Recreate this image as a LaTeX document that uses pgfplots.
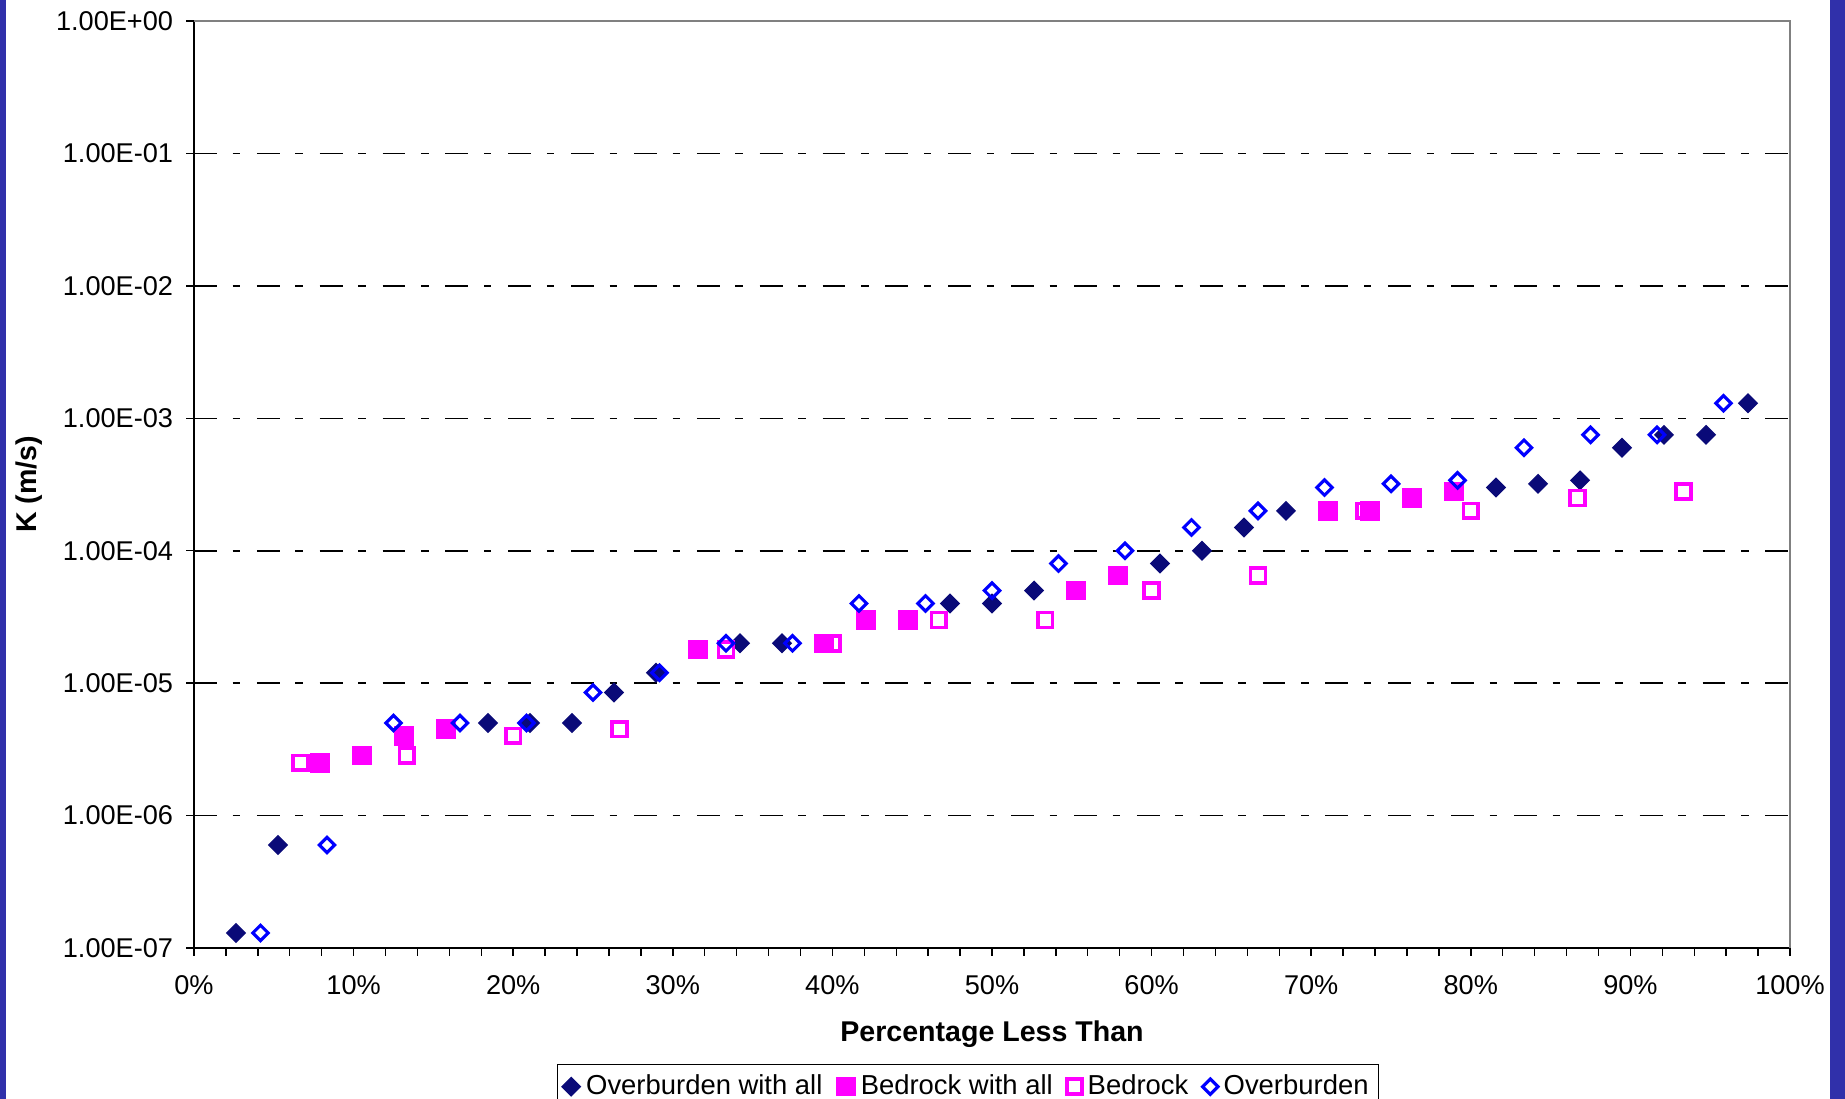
\documentclass[border=0pt]{standalone}
\usepackage{fontspec}
\setmainfont{Liberation Sans}
\usepackage{pgfplots}
\pgfplotsset{compat=1.18}
\definecolor{navyM}{RGB}{10,10,120}
\definecolor{blueM}{RGB}{0,0,255}
\definecolor{magM}{RGB}{255,0,255}
\definecolor{slide}{RGB}{48,48,170}
\definecolor{frameG}{RGB}{128,128,128}

\begin{document}
\begin{tikzpicture}
\useasboundingbox (0,0) rectangle (645.75pt,-384.65pt);
\fill[slide] (0,0) rectangle (2.1pt,-384.65pt);
\fill[slide] (640.5pt,0) rectangle (645.75pt,-384.65pt);
\begin{axis}[
  at={(67.9pt,-331.8pt)}, anchor=south west,
  width=558.6pt, height=324.45pt, scale only axis,
  xmin=0, xmax=100, ymin=1e-7, ymax=1, ymode=log, log basis y=10,
  axis x line*=bottom, axis y line*=left,
  x axis line style={line width=0.7pt, -},
  y axis line style={line width=0.5pt, -},
  tick align=outside, major tick length=2.8pt, minor tick length=2.8pt,
  xtick={0,10,...,100}, minor x tick num=4,
  yminorticks=false,
  xticklabels={0\%,10\%,20\%,30\%,40\%,50\%,60\%,70\%,80\%,90\%,100\%},
  ytick={1e-7,1e-6,1e-5,1e-4,1e-3,1e-2,1e-1,1},
  yticklabels={1.00E-07,1.00E-06,1.00E-05,1.00E-04,1.00E-03,1.00E-02,1.00E-01,1.00E+00},
  ymajorgrids,
  major grid style={black, line width=0.55pt, dash pattern=on 8pt off 5.5pt on 2.6pt off 5.9pt},
  tick style={black, line width=0.5pt},
  ticklabel style={font=\fontsize{9.5}{11}\selectfont},
  xticklabel style={yshift=-3.2pt},
  yticklabel style={xshift=-1.0pt},
  xlabel={Percentage Less Than}, ylabel={K (m/s)},
  xlabel style={font=\fontsize{10}{12}\selectfont\bfseries, at={(axis description cs:0.5,-0.0928)}, anchor=center},
  ylabel style={font=\fontsize{10}{12}\selectfont\bfseries, at={(axis description cs:-0.1034,0.5)}, anchor=center},
  legend columns=4,
  legend style={at={(0.485,-0.125)}, anchor=north, draw=black, line width=0.5pt,
    font=\fontsize{9.6}{11}\selectfont, inner sep=1.5pt,
    /tikz/every even column/.append style={column sep=3pt}},
  legend image code/.code={\draw[#1] plot coordinates {(0.1cm,0cm)};},
]
\addplot[only marks, mark=square*, mark size=2.3pt, mark options={rotate=45, fill=navyM, draw=navyM, line width=0.4pt}] coordinates {
(2.632,1.3e-7) (5.263,6e-7) (18.421,5e-6) (21.053,5e-6) (23.684,5e-6)
(26.316,8.5e-6) (28.947,1.2e-5) (34.211,2e-5) (36.842,2e-5) (47.368,4e-5)
(50.000,4e-5) (52.632,5e-5) (60.526,8e-5) (63.158,1e-4) (65.789,1.5e-4)
(68.421,2e-4) (81.579,3e-4) (84.211,3.2e-4) (86.842,3.4e-4) (89.474,6e-4)
(92.105,7.5e-4) (94.737,7.5e-4) (97.368,1.3e-3)
};
\addlegendentry{Overburden with all}
\addplot[only marks, mark=square*, mark size=3.2pt, mark options={fill=magM, draw=magM, line width=0.4pt}] coordinates {
(7.895,2.5e-6) (10.526,2.85e-6) (13.158,4e-6) (15.789,4.5e-6) (31.579,1.8e-5)
(39.474,2e-5) (42.105,3e-5) (44.737,3e-5) (55.263,5e-5) (57.895,6.5e-5)
(71.053,2e-4) (73.684,2e-4) (76.316,2.5e-4) (78.947,2.8e-4)
};
\addlegendentry{Bedrock with all}
\addplot[only marks, mark=square, mark size=2.6pt, mark options={draw=magM, line width=1.3pt}] coordinates {
(6.667,2.5e-6) (13.333,2.85e-6) (20.000,4e-6) (26.667,4.5e-6) (33.333,1.8e-5)
(40.000,2e-5) (46.667,3e-5) (53.333,3e-5) (60.000,5e-5) (66.667,6.5e-5)
(73.333,2e-4) (80.000,2e-4) (86.667,2.5e-4) (93.333,2.8e-4)
};
\addlegendentry{Bedrock}
\addplot[only marks, mark=square, mark size=1.9pt, mark options={rotate=45, draw=blueM, line width=1.1pt}] coordinates {
(4.167,1.3e-7) (8.333,6e-7) (12.5,5e-6) (16.667,5e-6) (20.833,5e-6)
(25.000,8.5e-6) (29.167,1.2e-5) (33.333,2e-5) (37.5,2e-5) (41.667,4e-5)
(45.833,4e-5) (50.000,5e-5) (54.167,8e-5) (58.333,1e-4) (62.5,1.5e-4)
(66.667,2e-4) (70.833,3e-4) (75.000,3.2e-4) (79.167,3.4e-4) (83.333,6e-4)
(87.5,7.5e-4) (91.667,7.5e-4) (95.833,1.3e-3)
};
\addlegendentry{Overburden}
\end{axis}
\draw[frameG, line width=1pt] (67.9pt,-7.35pt) -- (626.5pt,-7.35pt) -- (626.5pt,-331.8pt);
\end{tikzpicture}
\end{document}
